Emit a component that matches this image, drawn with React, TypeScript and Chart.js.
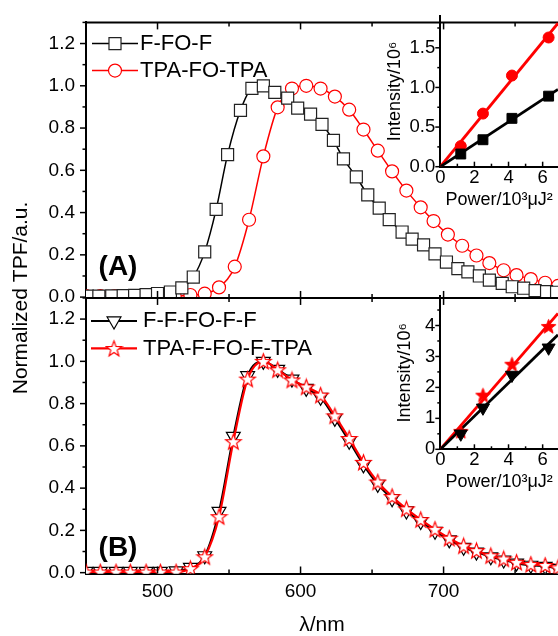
import React, { useEffect, useRef } from 'react';
import { Chart, registerables } from 'chart.js';
import { drawPoint } from 'chart.js/helpers';

Chart.register(...registerables);

const FONT = "'Liberation Sans', Arial, Helvetica, sans-serif";
const RED = '#ff0000';
const BLACK = '#000000';

// ---------- Panel (A) ----------
const wlA_FFOF = [451, 459, 468, 476, 484, 492, 500, 509, 517, 525, 533, 541, 549, 558, 566, 574, 582, 591, 598, 607, 615, 623, 630, 639, 647, 655, 662, 671, 678, 686, 694, 702, 710, 717, 725, 732, 741, 748, 756, 764, 772, 779];
const tpfA_FFOF = [0.005, 0.005, 0.006, 0.007, 0.008, 0.012, 0.017, 0.024, 0.044, 0.095, 0.214, 0.415, 0.674, 0.884, 0.988, 1.0, 0.969, 0.942, 0.894, 0.866, 0.817, 0.742, 0.654, 0.569, 0.484, 0.421, 0.367, 0.308, 0.274, 0.247, 0.205, 0.166, 0.135, 0.119, 0.10, 0.08, 0.065, 0.049, 0.042, 0.031, 0.026, 0.023];
const wlA_TPA = [450, 460, 470, 481, 491, 502, 512, 523, 533, 543, 554, 564, 574, 584, 594, 604, 614, 624, 634, 644, 654, 664, 674, 684, 693, 703, 713, 723, 732, 742, 751, 761, 771, 780];
const tpfA_TPA = [0.005, 0.005, 0.005, 0.005, 0.005, 0.005, 0.005, 0.01, 0.016, 0.046, 0.144, 0.366, 0.666, 0.898, 0.987, 1.0, 0.987, 0.949, 0.887, 0.793, 0.693, 0.595, 0.504, 0.425, 0.36, 0.296, 0.243, 0.197, 0.161, 0.127, 0.104, 0.085, 0.068, 0.053];

// ---------- Panel (B) ----------
const wlB = [450, 460, 471, 481, 492, 502, 513, 523, 533, 543, 553, 563, 574, 584, 594, 604, 614, 624, 634, 644, 654, 664, 674, 684, 694, 704, 714, 723, 733, 742, 751, 761, 771, 780];
const tpfB_FF = [0.006, 0.006, 0.006, 0.006, 0.006, 0.006, 0.008, 0.025, 0.08, 0.29, 0.645, 0.932, 1.0, 0.962, 0.916, 0.872, 0.83, 0.73, 0.622, 0.51, 0.418, 0.35, 0.292, 0.242, 0.196, 0.155, 0.12, 0.097, 0.075, 0.06, 0.045, 0.035, 0.03, 0.02];
const tpfB_TPA = [0.003, 0.003, 0.003, 0.003, 0.003, 0.003, 0.003, 0.019, 0.075, 0.265, 0.62, 0.916, 1.0, 0.96, 0.912, 0.879, 0.84, 0.742, 0.635, 0.522, 0.429, 0.36, 0.302, 0.251, 0.205, 0.163, 0.127, 0.104, 0.08, 0.065, 0.049, 0.039, 0.034, 0.023];

// ---------- Insets ----------
const power = [1.2, 2.5, 4.2, 6.35];
const fitPower = [0, 6.9];
const insetA_FFOF = [0.16, 0.34, 0.61, 0.89];
const insetA_TPA = [0.26, 0.67, 1.15, 1.63];
const insetA_fitFFOF = [0, 0.975];
const insetA_fitTPA = [0, 1.81];
const insetB_FF = [0.5, 1.34, 2.4, 3.28];
const insetB_TPA = [0.58, 1.75, 2.75, 3.97];
const insetB_fitFF = [0, 3.7];
const insetB_fitTPA = [0, 4.39];

const labelsA = ['F-FO-F', 'TPA-FO-TPA'];
const labelsB = ['F-F-FO-F-F', 'TPA-F-FO-F-TPA'];
const panelLabels = ['(A)', '(B)'];
const xTitle = 'λ/nm';
const yTitle = 'Normalized TPF/a.u.';
const insetXTitle = 'Power/10³μJ²';
const insetYTitle = 'Intensity/10⁶';

const pts = (xs: number[], ys: number[]) => xs.map((x, i) => ({ x, y: ys[i] }));

function line(ctx: CanvasRenderingContext2D, x0: number, y0: number, x1: number, y1: number) {
  ctx.beginPath();
  ctx.moveTo(x0, y0);
  ctx.lineTo(x1, y1);
  ctx.stroke();
}

function makeStar(size: number, outerR: number, innerR: number, stroke: string, fill: string, lw: number) {
  const c = document.createElement('canvas');
  c.width = size;
  c.height = size;
  const g = c.getContext('2d')!;
  g.beginPath();
  for (let i = 0; i < 10; i++) {
    const r = i % 2 === 0 ? outerR : innerR;
    const a = -Math.PI / 2 + (i * Math.PI) / 5;
    const px = size / 2 + r * Math.cos(a);
    const py = size / 2 + 0.6 + r * Math.sin(a);
    if (i === 0) g.moveTo(px, py);
    else g.lineTo(px, py);
  }
  g.closePath();
  g.fillStyle = fill;
  g.fill();
  g.strokeStyle = stroke;
  g.lineWidth = lw;
  g.lineJoin = 'miter';
  g.stroke();
  return c;
}

function drawLegendEntry(ctx: CanvasRenderingContext2D, ds: any, x0: number, x1: number, y: number, textX: number, text: string) {
  ctx.save();
  ctx.strokeStyle = ds.borderColor;
  ctx.lineWidth = ds.borderWidth;
  line(ctx, x0, y, x1, y);
  ctx.fillStyle = ds.pointBackgroundColor;
  ctx.strokeStyle = ds.pointBorderColor;
  ctx.lineWidth = ds.pointBorderWidth;
  drawPoint(ctx, { pointStyle: ds.pointStyle, rotation: ds.pointRotation || 0, radius: ds.pointRadius, borderWidth: ds.pointBorderWidth } as any, (x0 + x1) / 2, y);
  ctx.fillStyle = BLACK;
  ctx.font = `22px ${FONT}`;
  ctx.textAlign = 'left';
  ctx.textBaseline = 'middle';
  ctx.fillText(text, textX, y);
  ctx.restore();
}

const mainDecor = {
  id: 'mainDecor',
  afterDraw(chart: any) {
    const { ctx, chartArea: ca } = chart;
    const x = chart.scales.x, yA = chart.scales.yA, yB = chart.scales.yB;
    ctx.save();
    ctx.strokeStyle = BLACK;
    ctx.lineWidth = 2;
    line(ctx, ca.left - 1, yA.top, ca.right, yA.top);
    line(ctx, ca.left - 1, yB.top, ca.right, yB.top);
    ctx.lineWidth = 1.5;
    for (const t of x.ticks) {
      const v = t.value;
      if (v <= x.min) continue;
      const px = x.getPixelForValue(v);
      const len = v % 100 === 0 ? 7 : 4;
      for (const ys of [yA, yB]) {
        line(ctx, px, ys.top, px, ys.top + len);
        line(ctx, px, ys.bottom, px, ys.bottom - len);
      }
    }
    for (const ys of [yA, yB]) {
      for (const t of ys.ticks) {
        const py = ys.getPixelForValue(t.value);
        const len = Math.round(t.value * 10) % 2 === 0 ? 6 : 3.5;
        line(ctx, ca.left - len, py, ca.left, py);
      }
    }
    ctx.restore();
    const d = chart.data.datasets;
    drawLegendEntry(ctx, d[0], 92, 138, yA.top + 21.2, 140, labelsA[0]);
    drawLegendEntry(ctx, d[1], 92, 138, yA.top + 48.2, 140, labelsA[1]);
    drawLegendEntry(ctx, d[2], 91, 137, yB.top + 23, 143, labelsB[0]);
    drawLegendEntry(ctx, d[3], 91, 137, yB.top + 50.5, 143, labelsB[1]);
    ctx.save();
    ctx.fillStyle = BLACK;
    ctx.font = `bold 28px ${FONT}`;
    ctx.textAlign = 'center';
    ctx.textBaseline = 'middle';
    ctx.fillText(panelLabels[0], 118, yA.top + 245);
    ctx.fillText(panelLabels[1], 118, yB.top + 250.5);
    ctx.restore();
  },
};

const insetDecor = {
  id: 'insetDecor',
  afterDraw(chart: any) {
    const { ctx, chartArea: ca } = chart;
    const x = chart.scales.x, y = chart.scales.y;
    ctx.save();
    ctx.strokeStyle = BLACK;
    ctx.lineWidth = 1.5;
    for (const t of x.ticks) {
      if (t.value <= x.min) continue;
      const px = x.getPixelForValue(t.value);
      const len = t.label !== '' ? 5 : 3;
      line(ctx, px, ca.bottom, px, ca.bottom - len);
    }
    for (const t of y.ticks) {
      const py = y.getPixelForValue(t.value);
      const len = t.label !== '' ? 5 : 3;
      line(ctx, ca.left - len, py, ca.left, py);
    }
    ctx.restore();
  },
};

function insetConfig(opts: any): any {
  return {
    type: 'scatter',
    data: { datasets: opts.datasets },
    options: {
      animation: false,
      responsive: false,
      devicePixelRatio: 1,
      events: [],
      layout: { padding: { top: 12.8, left: 0, right: 0, bottom: 0 }, autoPadding: false },
      plugins: { legend: { display: false }, tooltip: { enabled: false }, title: { display: false } },
      scales: {
        x: {
          type: 'linear', min: 0, max: 6.9,
          ticks: { stepSize: 1, includeBounds: false, autoSkip: false, maxRotation: 0, padding: 1.5, font: { size: 18.5, lineHeight: 1 }, color: BLACK,
            callback: (v: any) => (Math.round(Number(v)) % 2 === 0 ? String(Math.round(Number(v))) : '') },
          grid: { display: false, drawTicks: false },
          border: { display: true, color: BLACK, width: 2 },
          title: { display: true, text: insetXTitle, font: { size: 18, lineHeight: 1 }, color: BLACK, padding: { top: 0, bottom: opts.xTitlePad } },
          afterFit: (s: any) => { s.height = opts.xHeight; },
        },
        y: {
          type: 'linear', min: 0, max: opts.yMax,
          ticks: { stepSize: opts.yStep, includeBounds: false, autoSkip: false, padding: 5, font: { size: 18.5 }, color: BLACK, callback: opts.yLabel },
          grid: { display: false, drawTicks: false },
          border: { display: true, color: BLACK, width: 2 },
          title: { display: true, text: insetYTitle, font: { size: 18 }, color: BLACK, padding: { top: opts.yTitlePad, bottom: 0 } },
          afterFit: (s: any) => { s.width = 60.3; },
        },
      },
    },
    plugins: [insetDecor],
  };
}

export default function App() {
  const mainRef = useRef<HTMLCanvasElement>(null);
  const insetARef = useRef<HTMLCanvasElement>(null);
  const insetBRef = useRef<HTMLCanvasElement>(null);

  useEffect(() => {
    Chart.defaults.font.family = FONT;
    Chart.defaults.color = BLACK;
    const starOutline = makeStar(19, 8.2, 3.4, RED, '#ffffff', 1.2);
    const starFilled = makeStar(17, 7.6, 3.2, RED, RED, 1);

    const yLabel = (v: any) => {
      const k = Math.round(Number(v) * 10);
      return k % 2 === 0 && k >= 0 && k <= 12 ? (k / 10).toFixed(1) : '';
    };
    const yScale = (stackWeight: number) => ({
      type: 'linear', position: 'left', stack: 'main', stackWeight, min: -0.004, max: 1.3,
      ticks: { stepSize: 0.1, includeBounds: false, autoSkip: false, padding: 11, font: { size: 19 }, color: BLACK, callback: yLabel },
      grid: { display: false, drawTicks: false },
      border: { display: true, color: BLACK, width: 2 },
      afterFit: (s: any) => { s.width = 47.8; },
    });

    const main = new Chart(mainRef.current!, {
      type: 'line',
      data: {
        datasets: [
          {
            label: labelsA[0], data: pts(wlA_FFOF, tpfA_FFOF), yAxisID: 'yA', order: 2,
            borderColor: BLACK, borderWidth: 1.5, pointStyle: 'rect', pointRadius: 8.5, pointBorderWidth: 1.2,
            pointBorderColor: '#222', pointBackgroundColor: '#ffffff', cubicInterpolationMode: 'monotone',
          },
          {
            label: labelsA[1], data: pts(wlA_TPA, tpfA_TPA), yAxisID: 'yA', order: 3,
            borderColor: RED, borderWidth: 1.5, pointStyle: 'circle', pointRadius: 6.5, pointBorderWidth: 1.2,
            pointBorderColor: RED, pointBackgroundColor: '#ffffff', cubicInterpolationMode: 'monotone',
          },
          {
            label: labelsB[0], data: pts(wlB, tpfB_FF), yAxisID: 'yB', order: 1,
            borderColor: BLACK, borderWidth: 2, pointStyle: 'triangle', pointRotation: 180, pointRadius: 8, pointBorderWidth: 1.2,
            pointBorderColor: BLACK, pointBackgroundColor: '#ffffff', cubicInterpolationMode: 'monotone',
          },
          {
            label: labelsB[1], data: pts(wlB, tpfB_TPA), yAxisID: 'yB', order: 0,
            borderColor: RED, borderWidth: 2.2, pointStyle: starOutline, pointRadius: 8, pointBorderWidth: 1.2,
            pointBorderColor: RED, pointBackgroundColor: '#ffffff', cubicInterpolationMode: 'monotone',
          },
        ],
      } as any,
      options: {
        animation: false,
        responsive: false,
        devicePixelRatio: 1,
        events: [],
        layout: { padding: { top: 12.8, left: 0, right: 0, bottom: 0 }, autoPadding: false },
        plugins: {
          legend: { display: false },
          tooltip: { enabled: false },
          title: { display: true, position: 'left', text: yTitle, fullSize: false, color: BLACK,
            font: { size: 21, weight: 'normal' }, padding: { top: 9, bottom: 4 } },
        },
        scales: {
          x: {
            type: 'linear', min: 450, max: 780,
            ticks: { stepSize: 50, includeBounds: false, autoSkip: false, maxRotation: 0, padding: 9, font: { size: 19, lineHeight: 1 }, color: BLACK,
              callback: (v: any) => (Number(v) % 100 === 0 ? String(v) : '') },
            grid: { display: false, drawTicks: false },
            border: { display: true, color: BLACK, width: 2 },
            title: { display: true, text: xTitle, font: { size: 21, lineHeight: 1 }, color: BLACK, padding: { top: 0, bottom: 0 } },
            afterFit: (s: any) => { s.height = 62.5; },
          },
          yB: yScale(1),
          yA: yScale(1),
        } as any,
      },
      plugins: [mainDecor],
    } as any);

    const insetA = new Chart(insetARef.current!, insetConfig({
      yMax: 1.9, yStep: 0.25, xHeight: 48.3, xTitlePad: 6, yTitlePad: 4.2,
      yLabel: (v: any) => { const k = Math.round(Number(v) * 4); return k % 2 === 0 ? (k / 4).toFixed(1) : ''; },
      datasets: [
        { data: pts(power, insetA_FFOF), order: 0, pointStyle: 'rect', pointRadius: 7, pointBackgroundColor: BLACK, pointBorderColor: BLACK, pointBorderWidth: 1, showLine: false },
        { data: pts(power, insetA_TPA), order: 1, pointStyle: 'circle', pointRadius: 5.5, pointBackgroundColor: RED, pointBorderColor: RED, pointBorderWidth: 1, showLine: false },
        { data: pts(fitPower, insetA_fitFFOF), order: 2, showLine: true, borderColor: BLACK, borderWidth: 2.8, pointRadius: 0 },
        { data: pts(fitPower, insetA_fitTPA), order: 3, showLine: true, borderColor: RED, borderWidth: 2.8, pointRadius: 0 },
      ],
    }));

    const insetB = new Chart(insetBRef.current!, insetConfig({
      yMax: 4.95, yStep: 0.5, xHeight: 45.7, xTitlePad: 4, yTitlePad: 14.2,
      yLabel: (v: any) => { const k = Math.round(Number(v) * 2); return k % 2 === 0 ? String(k / 2) : ''; },
      datasets: [
        { data: pts(power, insetB_FF), order: 0, pointStyle: 'triangle', pointRotation: 180, pointRadius: 7.5, pointBackgroundColor: BLACK, pointBorderColor: BLACK, pointBorderWidth: 1, showLine: false },
        { data: pts(power, insetB_TPA), order: 1, pointStyle: starFilled, pointRadius: 7.5, pointBackgroundColor: RED, pointBorderColor: RED, showLine: false },
        { data: pts(fitPower, insetB_fitFF), order: 2, showLine: true, borderColor: BLACK, borderWidth: 2.8, pointRadius: 0 },
        { data: pts(fitPower, insetB_fitTPA), order: 3, showLine: true, borderColor: RED, borderWidth: 2.8, pointRadius: 0 },
      ],
    }));

    return () => {
      main.destroy();
      insetA.destroy();
      insetB.destroy();
    };
  }, []);

  return (
    <div style={{ position: 'absolute', left: 0, top: 0, width: 558, height: 636, overflow: 'hidden', background: '#ffffff' }}>
      <canvas ref={mainRef} width={558} height={636} style={{ position: 'absolute', left: 0, top: 0 }} />
      <canvas ref={insetARef} width={178} height={215} style={{ position: 'absolute', left: 380, top: 0 }} />
      <canvas ref={insetBRef} width={178} height={215} style={{ position: 'absolute', left: 380, top: 280 }} />
    </div>
  );
}
